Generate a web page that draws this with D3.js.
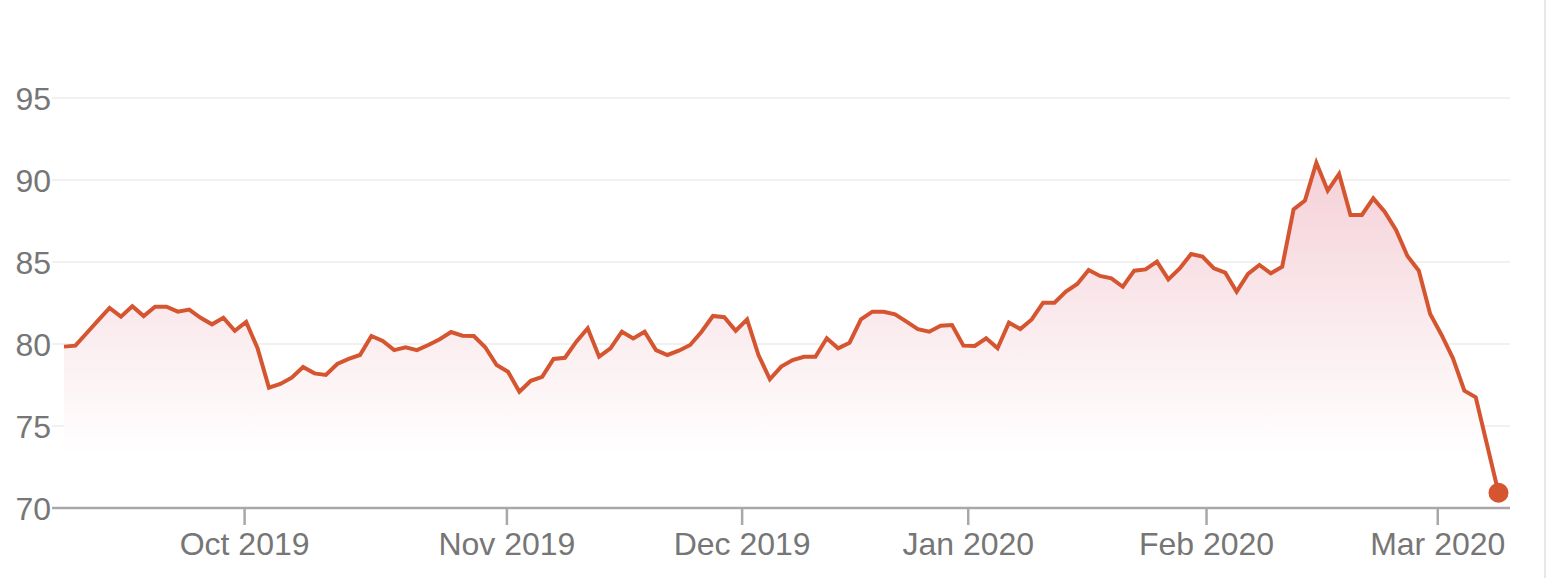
<!DOCTYPE html>
<html>
<head>
<meta charset="utf-8">
<script src="https://cdn.jsdelivr.net/npm/d3@7"></script>
<style>
  body { margin: 0; background: #fff; }
  #chart { display: block; }
</style>
</head>
<body>
<svg id="chart" width="1554" height="578"></svg>
<script>
// daily closing prices, one per trading day (Sep 2019 - Mar 2020)
var prices = [
    79.84, 79.9, 80.67, 81.44, 82.2, 81.67, 82.3, 81.7, 82.27, 82.27,
    81.97, 82.1, 81.6, 81.2, 81.6, 80.8, 81.34, 79.74, 77.34, 77.56,
    77.95, 78.6, 78.21, 78.11, 78.78, 79.09, 79.33, 80.49, 80.18, 79.63,
    79.8, 79.63, 79.94, 80.29, 80.73, 80.51, 80.49, 79.8, 78.72, 78.31,
    77.09, 77.76, 78.0, 79.09, 79.16, 80.14, 80.96, 79.23, 79.74, 80.75,
    80.34, 80.75, 79.63, 79.33, 79.59, 79.94, 80.75, 81.71, 81.63, 80.81,
    81.5, 79.33, 77.85, 78.62, 79.02, 79.22, 79.22, 80.35, 79.74, 80.08,
    81.5, 81.97, 81.97, 81.81, 81.36, 80.91, 80.75, 81.12, 81.16, 79.9,
    79.88, 80.35, 79.74, 81.3, 80.91, 81.5, 82.52, 82.52, 83.19, 83.66,
    84.51, 84.15, 84.0, 83.49, 84.47, 84.55, 85.02, 83.94, 84.61, 85.49,
    85.33, 84.61, 84.35, 83.19, 84.27, 84.82, 84.31, 84.71, 88.21, 88.74,
    91.05, 89.35, 90.37, 87.87, 87.87, 88.88, 88.07, 86.95, 85.37, 84.47,
    81.83, 80.55, 79.13, 77.15, 76.75, 73.84, 70.93
];

// month boundaries, in trading-day index units
var monthLabels = ["Oct 2019", "Nov 2019", "Dec 2019", "Jan 2020", "Feb 2020", "Mar 2020"];
var monthPos = [15.82, 38.86, 59.52, 79.38, 100.31, 120.62];

var yTicks = [70, 75, 80, 85, 90, 95];

var svg = d3.select("#chart");
var width = 1554;
var height = 578;
var plot = { left: 52, right: 1510, top: 16, bottom: 508 };
var lineColor = "#d55530";
var textColor = "#767676";
var fontFamily = "'Liberation Sans', Helvetica, Arial, sans-serif";

var x = d3.scaleLinear()
    .domain([0, prices.length - 1])
    .range([64, 1498.5]);

var y = d3.scaleLinear()
    .domain([70, 100])
    .range([plot.bottom, plot.top]);

// thin border on the right edge of the widget
svg.append("line")
    .attr("x1", 1545).attr("x2", 1545)
    .attr("y1", 0).attr("y2", height)
    .attr("stroke", "#e8e8e8")
    .attr("stroke-width", 2);

// gridlines
svg.append("g")
    .selectAll("line")
    .data(yTicks.filter(d => d > 70))
    .enter()
    .append("line")
    .attr("x1", plot.left)
    .attr("x2", plot.right)
    .attr("y1", d => y(d))
    .attr("y2", d => y(d))
    .attr("stroke", "#f1f1f1")
    .attr("stroke-width", 2);

// y labels
svg.append("g")
    .selectAll("text")
    .data(yTicks)
    .enter()
    .append("text")
    .attr("x", 51)
    .attr("y", d => y(d))
    .attr("dy", "0.36em")
    .attr("text-anchor", "end")
    .attr("fill", textColor)
    .style("font-family", fontFamily)
    .style("font-size", "32px")
    .text(d => d);

// area gradient
var defs = svg.append("defs");
var grad = defs.append("linearGradient")
    .attr("id", "area-grad")
    .attr("x1", 0).attr("x2", 0)
    .attr("y1", 0).attr("y2", 1);
grad.append("stop").attr("offset", "0%").attr("stop-color", "#f5d0d8");
grad.append("stop").attr("offset", "45%").attr("stop-color", "#faeaed");
grad.append("stop").attr("offset", "85%").attr("stop-color", "#ffffff");

var area = d3.area()
    .x((d, i) => x(i))
    .y0(y(70))
    .y1(d => y(d));

svg.append("path")
    .datum(prices)
    .attr("d", area)
    .attr("fill", "url(#area-grad)");

// x axis
var xAxis = d3.axisBottom(x)
    .tickValues(monthPos)
    .tickFormat((d, i) => monthLabels[i])
    .tickSize(17)
    .tickPadding(7)
    .tickSizeOuter(0);

var gx = svg.append("g")
    .attr("transform", `translate(0,${plot.bottom})`)
    .call(xAxis);

gx.select(".domain")
    .attr("d", `M${plot.left},0H${plot.right}`)
    .attr("stroke", "#a8a8a8")
    .attr("stroke-width", 2.5);
gx.selectAll(".tick line")
    .attr("stroke", "#a8a8a8")
    .attr("stroke-width", 2.5);
gx.selectAll(".tick text")
    .attr("fill", textColor)
    .style("font-family", fontFamily)
    .style("font-size", "32px");

// price line
var line = d3.line()
    .x((d, i) => x(i))
    .y(d => y(d));

svg.append("path")
    .datum(prices)
    .attr("d", line)
    .attr("fill", "none")
    .attr("stroke", lineColor)
    .attr("stroke-width", 4);

// marker on the last close
svg.append("circle")
    .attr("cx", x(prices.length - 1))
    .attr("cy", y(prices[prices.length - 1]))
    .attr("r", 10)
    .attr("fill", lineColor);
</script>
</body>
</html>
